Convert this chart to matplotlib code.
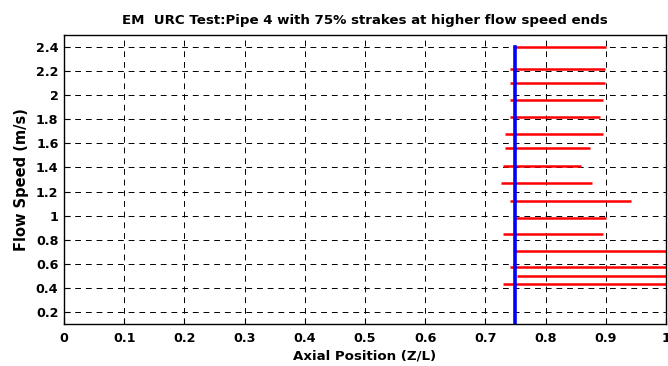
import numpy as np
import matplotlib
matplotlib.use('Agg')
from matplotlib import pyplot as plt

plt.rcParams['font.family'] = ['DejaVu Sans']
plt.rcParams['font.weight'] = 'bold'

# red segments: flow speed, start and end in Z/L
speed = [2.40, 2.22, 2.10, 1.96, 1.82, 1.68, 1.56, 1.41,
         1.27, 1.12, 0.98, 0.85, 0.71, 0.57, 0.50, 0.43]
z_start = [0.750, 0.741, 0.741, 0.741, 0.741, 0.733, 0.733, 0.729,
           0.726, 0.741, 0.750, 0.729, 0.750, 0.741, 0.752, 0.729]
z_end = [0.901, 0.898, 0.898, 0.895, 0.890, 0.895, 0.874, 0.858,
         0.877, 0.942, 0.901, 0.895, 1.05, 1.05, 1.05, 1.05]
strake_pos = 0.75

xticks = np.round(np.arange(0, 1.01, 0.1), 1)
yticks = np.round(np.arange(0.2, 2.41, 0.2), 1)

fig = plt.figure(figsize=(6.68, 3.66), dpi=100)
ax = fig.add_axes([0.0958, 0.1148, 0.9012, 0.7896])

for s, a, b in zip(speed, z_start, z_end):
    ax.plot([a, b], [s, s], color='red', lw=1.8, solid_capstyle='butt')
ax.plot([strake_pos, strake_pos], [0.1, 2.4], color='#0000ff', lw=2.6)

ax.set_xlim(0, 1)
ax.set_ylim(0.1, 2.5)
ax.set_xticks(xticks)
ax.set_xticklabels(['%g' % v for v in xticks])
ax.set_yticks(yticks)
ax.set_yticklabels(['%g' % v for v in yticks])
ax.grid(True, color='black', linestyle=(0, (6, 5)), lw=0.7)
ax.tick_params(direction='in', length=4, width=0.8, labelsize=9.2)
ax.tick_params(axis='x', pad=6)
ax.tick_params(axis='y', pad=4)
for sp in ax.spines.values():
    sp.set_linewidth(1.0)

ax.set_title('EM  URC Test:Pipe 4 with 75% strakes at higher flow speed ends',
             fontsize=9.6, fontweight='bold', pad=8)
ax.set_xlabel('Axial Position (Z/L)', fontsize=9.6, fontweight='bold', labelpad=3)
ax.set_ylabel('Flow Speed (m/s)', fontsize=10.5, fontweight='bold', labelpad=5)

fig.savefig('out.png', dpi=100)
